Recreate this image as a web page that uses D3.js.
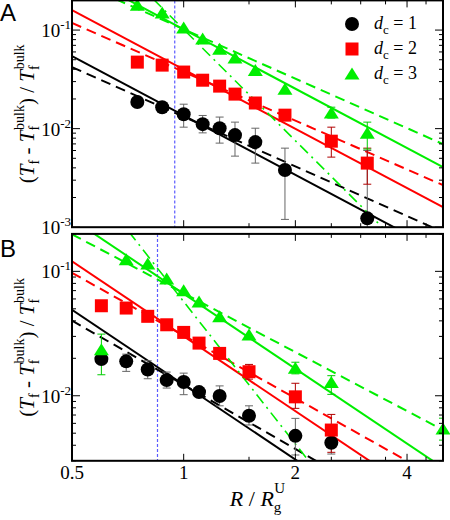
<!DOCTYPE html>
<html><head><meta charset="utf-8">
<script src="https://cdn.jsdelivr.net/npm/d3@7"></script>
<style>body{margin:0;background:#fff}svg{display:block}</style>
</head><body>
<svg id="c" width="450" height="520"></svg>
<script>
// ---------------- DATA ----------------
// Panel A
const xA1 = [0.75, 0.875, 1.0, 1.125, 1.25, 1.375, 1.56, 1.875, 3.125];
const yA1 = [0.0186, 0.0165, 0.0140, 0.0111, 0.0101, 0.0086, 0.0073, 0.0038, 0.00123];
const loA1 = [null, null, 0.01035, 0.00906, 0.00713, 0.00526, 0.00447, 0.0012, 0.0002];
const hiA1 = [null, null, 0.0177, 0.0136, 0.0131, 0.01164, 0.0101, 0.00634, 0.006];

const xA2 = [0.75, 0.875, 1.0, 1.125, 1.25, 1.375, 1.56, 1.875, 2.5, 3.125];
const yA2 = [0.0473, 0.0441, 0.0375, 0.031, 0.027, 0.0224, 0.0182, 0.0137, 0.00746, 0.00447];
const loA2 = [null, null, null, null, null, null, null, 0.0122, 0.00514, 0.00273];
const hiA2 = [null, null, null, null, null, null, null, 0.0154, 0.01035, 0.00634];

const xA3 = [0.75, 0.875, 1.0, 1.125, 1.25, 1.375, 1.56, 1.875, 2.5, 3.125];
const yA3 = [0.179, 0.149, 0.105, 0.081, 0.064, 0.052, 0.039, 0.0251, 0.0144, 0.009];
const loA3 = [null, null, null, null, null, null, null, null, 0.0128, 0.0062];
const hiA3 = [null, null, null, null, null, null, null, null, 0.0165, 0.01164];

// Panel B
const xB1 = [0.6, 0.7, 0.8, 0.9, 1.0, 1.1, 1.25, 1.5, 2.0, 2.5];
const yB1 = [0.0197, 0.0189, 0.01625, 0.01336, 0.0129, 0.0107, 0.00995, 0.0069, 0.00476, 0.00419];
const loB1 = [null, 0.0157, 0.0137, 0.01153, 0.0102, null, 0.0083, 0.00582, 0.00334, 0.0034];
const hiB1 = [null, 0.0216, 0.0191, 0.0155, 0.0152, null, 0.012, 0.0083, 0.00658, 0.0053];

const xB2 = [0.6, 0.7, 0.8, 0.9, 1.0, 1.1, 1.25, 1.5, 2.0, 2.5];
const yB2 = [0.0529, 0.0507, 0.0435, 0.0372, 0.0323, 0.0265, 0.0219, 0.0156, 0.0098, 0.0053];
const loB2 = [null, null, null, null, null, null, null, 0.0136, 0.00792, 0.00351];
const hiB2 = [null, null, null, null, null, null, null, 0.01786, 0.0126, 0.00708];

const xB3 = [0.6, 0.7, 0.8, 0.9, 1.0, 1.1, 1.25, 1.5, 2.0, 2.5, 5.0];
const yB3 = [0.0234, 0.124, 0.1145, 0.0867, 0.0699, 0.0567, 0.0432, 0.0308, 0.0166, 0.0128, 0.0054];
const loB3 = [0.01475, null, null, null, null, null, null, null, 0.015, 0.01026, 0.0044];
const hiB3 = [0.0313, null, null, null, null, null, null, null, 0.0186, 0.0145, 0.0066];

// Power-law fits: value at R/Rg = 1 and exponent
const fitNames = ["black solid", "black dashed", "red solid", "red dashed", "green solid", "green dashed", "green dashdot"];
const fitCA = [0.0136, 0.0132, 0.0399, 0.0377, 0.1016, 0.102, 0.1016];
const fitSA = [-2, -1.674, -2, -1.645, -2, -1.667, -3.75];
const fitCB = [0.01228, 0.01225, 0.0301, 0.0305, 0.066, 0.0667, 0.0571];
const fitSB = [-2, -1.715, -2, -1.675, -2, -1.573, -3.8];

const vlineA = 0.946, vlineB = 0.85;

const xDomain = [0.5, 5];
const yDomainA = [0.001, 0.2];
const yDomainB = [0.003, 0.2];
const xTickMajor = [1, 2, 4];
const xTickMinor = [1.5, 2.5, 3, 3.5, 4.5];
const xTickLabels = [0.5, 1, 2, 4];
const legendLabels = ["1", "2", "3"];

// --------------- DRAW ----------------
const svg = d3.select("#c");
const L = 72, R = 443;
const x = d3.scaleLog().domain(xDomain).range([L, R]);
const colors = ["#000000", "#ff0000", "#00ee00"];
const errColors = ["#666666", "#b00000", "#00cc00"];
const serif = "'Liberation Serif','Times New Roman',serif";

const panels = [
  {top: 0.4, bottom: 227.2, dom: yDomainA, series: [[xA1,yA1,loA1,hiA1],[xA2,yA2,loA2,hiA2],[xA3,yA3,loA3,hiA3]], C: fitCA, S: fitSA, vline: vlineA, label: "A", labY: 21, ticks: [0.1, 0.01, 0.001], tickTxt: ["-1","-2","-3"]},
  {top: 233.9, bottom: 460.8, dom: yDomainB, series: [[xB1,yB1,loB1,hiB1],[xB2,yB2,loB2,hiB2],[xB3,yB3,loB3,hiB3]], C: fitCB, S: fitSB, vline: vlineB, label: "B", labY: 257, ticks: [0.1, 0.01], tickTxt: ["-1","-2"]}
];

function marker(g, k, cx, cy, size) {
  if (k === 0) g.append("circle").attr("cx", cx).attr("cy", cy).attr("r", size||7).attr("fill", colors[0]);
  else if (k === 1) { const s = size||6.5; g.append("rect").attr("x", cx-s).attr("y", cy-s).attr("width", 2*s).attr("height", 2*s).attr("fill", colors[1]); }
  else g.append("path").attr("d", `M${cx},${cy-6.5}L${cx+7.5},${cy+5.5}L${cx-7.5},${cy+5.5}Z`).attr("fill", colors[2]);
}

const lineStyles = [
  {c:0, dash:null, w:2}, {c:0, dash:"10,6", w:2},
  {c:1, dash:null, w:2}, {c:1, dash:"10,6", w:2},
  {c:2, dash:null, w:2}, {c:2, dash:"10,6", w:2}, {c:2, dash:"11,5,2,5", w:1.6}
];

panels.forEach((p, pi) => {
  const y = d3.scaleLog().domain(p.dom).range([p.bottom, p.top]);
  const clipId = "clip" + pi;
  svg.append("clipPath").attr("id", clipId).append("rect")
    .attr("x", L).attr("y", p.top).attr("width", R - L).attr("height", p.bottom - p.top);
  const g = svg.append("g");
  const gc = g.append("g").attr("clip-path", `url(#${clipId})`);

  // vertical dotted line
  const vx = x(p.vline);
  gc.append("line").attr("x1", vx).attr("x2", vx).attr("y1", p.top).attr("y2", p.bottom)
    .attr("stroke", "#5a5aff").attr("stroke-width", 1.2).attr("stroke-dasharray", "3,2");

  // fit lines
  const ln = d3.line().x(d => x(d[0])).y(d => y(d[1]));
  p.C.forEach((C, i) => {
    const st = lineStyles[i];
    const pts = xDomain.map(v => [v, C * Math.pow(v, p.S[i])]);
    gc.append("path").attr("d", ln(pts)).attr("fill", "none")
      .attr("stroke", colors[st.c]).attr("stroke-width", st.w)
      .attr("stroke-dasharray", st.dash);
  });

  // error bars
  p.series.forEach((s, k) => {
    const [xs, ys, lo, hi] = s;
    xs.forEach((xv, i) => {
      if (lo[i] == null) return;
      const cx = x(xv), y1 = y(hi[i]), y2 = y(lo[i]);
      gc.append("line").attr("x1", cx).attr("x2", cx).attr("y1", y1).attr("y2", y2).attr("stroke", errColors[k]).attr("stroke-width", 1);
      [y1, y2].forEach(yy => gc.append("line").attr("x1", cx-4).attr("x2", cx+4).attr("y1", yy).attr("y2", yy).attr("stroke", errColors[k]).attr("stroke-width", 1));
    });
  });

  // markers
  p.series.forEach((s, k) => {
    const [xs, ys] = s;
    xs.forEach((xv, i) => marker(g, k, x(xv), y(ys[i])));
  });

  // frame
  g.append("rect").attr("x", L).attr("y", p.top).attr("width", R - L).attr("height", p.bottom - p.top)
    .attr("fill", "none").attr("stroke", "#000").attr("stroke-width", 2);

  // x ticks (inside, top & bottom)
  xTickMajor.concat(xTickMinor).forEach(v => {
    const len = xTickMajor.includes(v) ? 7 : 4;
    g.append("line").attr("x1", x(v)).attr("x2", x(v)).attr("y1", p.bottom).attr("y2", p.bottom - len).attr("stroke", "#000").attr("stroke-width", 1);
    g.append("line").attr("x1", x(v)).attr("x2", x(v)).attr("y1", p.top).attr("y2", p.top + len).attr("stroke", "#000").attr("stroke-width", 1);
  });
  // y ticks
  const yt = [];
  for (let e = -3; e <= -1; e++) for (let m = 1; m <= 9; m++) {
    const v = m * Math.pow(10, e);
    if (v >= p.dom[0] * 0.999 && v <= p.dom[1] * 1.001) yt.push([v, m === 1]);
  }
  yt.forEach(([v, maj]) => {
    const len = maj ? 8 : 4;
    g.append("line").attr("x1", L).attr("x2", L + len).attr("y1", y(v)).attr("y2", y(v)).attr("stroke", "#000").attr("stroke-width", 1);
    g.append("line").attr("x1", R).attr("x2", R - len).attr("y1", y(v)).attr("y2", y(v)).attr("stroke", "#000").attr("stroke-width", 1);
  });
  // y tick labels
  p.ticks.forEach((v, i) => {
    const t = g.append("text").attr("x", 71).attr("y", y(v) + 7).attr("text-anchor", "end")
      .attr("font-family", serif).attr("font-size", 19);
    t.append("tspan").text("10");
    t.append("tspan").attr("font-size", 13).attr("dy", -8).text(p.tickTxt[i]);
  });

  // panel letter
  svg.append("text").attr("x", 0).attr("y", p.labY).attr("font-family", "'Liberation Sans',Arial,sans-serif")
    .attr("font-size", 24).text(p.label);

  // y axis label
  const cy = (p.top + p.bottom) / 2;
  const yl = svg.append("text").attr("transform", `translate(34,${cy}) rotate(-90)`)
    .attr("text-anchor", "middle").attr("font-family", serif).attr("font-size", 21);
  yl.append("tspan").text("(");
  yl.append("tspan").attr("font-style", "italic").text("T");
  yl.append("tspan").attr("font-size", 14).attr("dy", 5).text("f");
  yl.append("tspan").attr("dy", -5).text(" - ");
  yl.append("tspan").attr("font-style", "italic").text("T");
  yl.append("tspan").attr("font-size", 14).attr("dy", 5).text("f");
  yl.append("tspan").attr("font-size", 14).attr("dx", -4).attr("dy", -15).text("bulk");
  yl.append("tspan").attr("dy", 10).text(") / ");
  yl.append("tspan").attr("font-style", "italic").text("T");
  yl.append("tspan").attr("font-size", 14).attr("dy", 5).text("f");
  yl.append("tspan").attr("font-size", 14).attr("dx", -4).attr("dy", -15).text("bulk");
});

// x tick labels (bottom of B)
xTickLabels.forEach(v => {
  svg.append("text").attr("x", x(v)).attr("y", 479).attr("text-anchor", "middle")
    .attr("font-family", serif).attr("font-size", 19).text(v);
});

// x label
const xl = svg.append("text").attr("x", (L + R) / 2).attr("y", 506).attr("text-anchor", "middle")
  .attr("font-family", serif).attr("font-size", 22);
xl.append("tspan").attr("font-style", "italic").text("R");
xl.append("tspan").text(" / ");
xl.append("tspan").attr("font-style", "italic").text("R");
xl.append("tspan").attr("font-size", 15).attr("dy", 6).text("g");
xl.append("tspan").attr("font-size", 15).attr("dx", -7).attr("dy", -19).text("U");

// legend
legendLabels.forEach((t, k) => {
  const cy = 24 + k * 25;
  marker(svg, k, 352, cy);
  const tx = svg.append("text").attr("x", 374).attr("y", cy + 5).attr("font-family", serif).attr("font-size", 18);
  tx.append("tspan").attr("font-style", "italic").text("d");
  tx.append("tspan").attr("font-size", 13).attr("dy", 5).text("c");
  tx.append("tspan").attr("dy", -5).text(" = " + t);
});
</script>
</body></html>
